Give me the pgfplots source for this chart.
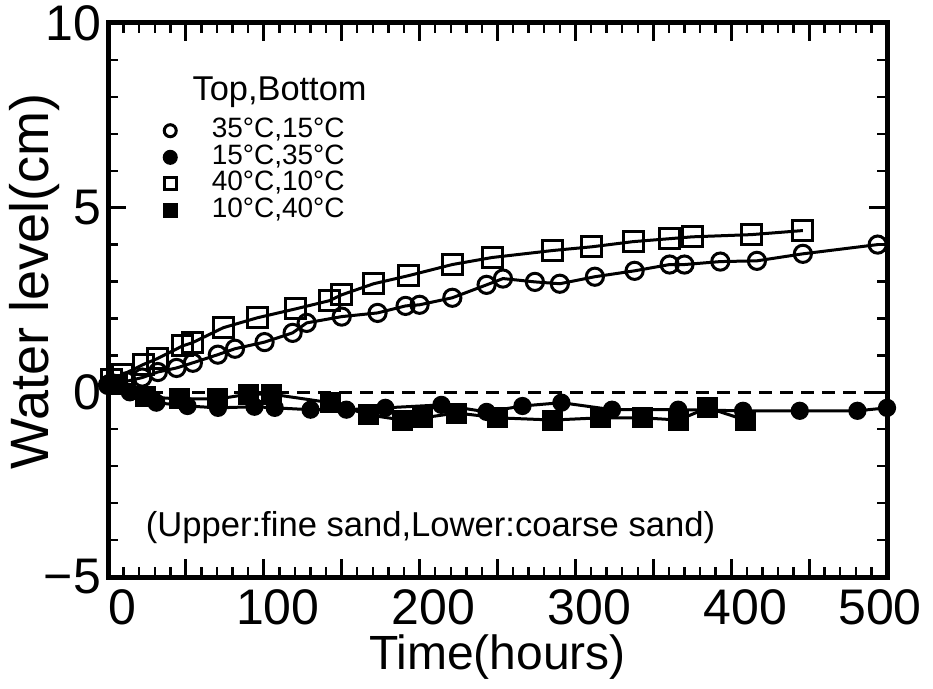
\documentclass[border=0pt]{standalone}
\usepackage{pgfplots}
\pgfplotsset{compat=1.18}
\usepackage{fontspec}
\setmainfont{Liberation Sans}

% Water level against time, fine sand over coarse sand
\pgfplotstableread{
t v
0 0.20
2 0.25
12 0.30
22 0.40
32 0.55
44 0.66
54.5 0.80
70.5 1.02
81.5 1.18
100.5 1.36
118.5 1.61
127.5 1.88
150 2.05
173 2.15
191 2.34
200 2.37
221 2.56
243 2.91
253.5 3.08
274 2.99
290 2.94
312.5 3.13
338 3.29
360.5 3.46
370 3.46
393 3.54
416.5 3.56
446 3.75
494 4.00
}\opencircle

\pgfplotstableread{
t v
1 0.20
14 0.00
31 -0.28
51 -0.37
70.6 -0.42
94 -0.39
107 -0.42
130 -0.47
153 -0.47
178 -0.42
214 -0.34
243 -0.53
266 -0.37
291 -0.28
323.5 -0.47
366 -0.47
407.6 -0.50
444 -0.50
481 -0.50
500 -0.42
}\fillcircle

\pgfplotstableread{
t v
2 0.35
9 0.47
22.5 0.75
31.5 0.91
48 1.26
54 1.34
74 1.75
96 2.02
120.5 2.26
142 2.48
150 2.64
170.5 2.94
193 3.16
221 3.46
246.5 3.65
285.5 3.84
310.5 3.94
337 4.08
360.5 4.16
375 4.21
413 4.27
446 4.38
}\opensquare

\pgfplotstableread{
t v
6 0.20
24 -0.12
46 -0.18
70.6 -0.18
90 -0.05
105 -0.05
142.5 -0.28
167 -0.61
189 -0.75
202 -0.69
224 -0.56
250 -0.69
285.6 -0.75
316 -0.69
343 -0.69
366 -0.75
385 -0.42
409 -0.75
}\fillsquare

\begin{document}
\begin{tikzpicture}
\begin{axis}[
  scale only axis, width=389.5pt, height=277pt,
  xmin=0, xmax=500, ymin=-5, ymax=10,
  clip=false,
  xtick={0,100,...,500},
  xticklabels={0,100,200,300,400,\hspace*{-21pt}500},
  xticklabel style={xshift=7pt, yshift=-3pt},
  extra x ticks={50,150,...,450}, extra x tick labels={},
  extra x tick style={grid=none},
  minor xtick={0,10,...,500},
  ytick={-5,0,5,10}, yticklabels={−5,0,5,10},
  minor ytick={-5,-4,...,10},
  axis line style={line width=2.5pt},
  major tick style={line width=1.5pt, black},
  minor tick style={line width=1.2pt, black},
  major tick length=9pt, minor tick length=5pt,
  tick label style={font=\fontsize{25}{25}\selectfont},
  xlabel={Time(hours)}, ylabel={Water level(cm)},
  xlabel style={font=\fontsize{24}{24}\selectfont, yshift=2pt},
  ylabel style={font=\fontsize{27}{27}\selectfont,
    at={(axis description cs:0,0.533)}, anchor=center, yshift=36.5pt},
  legend style={at={(axis cs:32,7.5)}, anchor=north west, draw=none, fill=none,
    font=\fontsize{14}{14}\selectfont, row sep=2.3pt,
    nodes={inner sep=0pt, text height=9pt, text depth=2pt}},
  legend cell align=left,
  legend image code/.code={%
    \path (0pt,0pt) (20pt,0pt);
    \draw[#1, mark size=3pt] plot coordinates {(0pt,0pt)};},
]
\addplot[forget plot, black, line width=1.5pt, dash pattern=on 6.5pt off 4pt]
  coordinates {(0,0) (500,0)};
\addplot[black, line width=1.5pt, mark=o, mark size=4.3pt,
  mark options={line width=1.5pt, fill=white}] table {\opencircle};
\addlegendentry{35°C,15°C}
\addplot[black, line width=1.5pt, mark=*, mark size=3.8pt] table {\fillcircle};
\addlegendentry{15°C,35°C}
\addplot[black, line width=1.5pt, mark=square, mark size=5pt,
  mark options={line width=1.5pt}] table {\opensquare};
\addlegendentry{40°C,10°C}
\addplot[black, line width=1.5pt, mark=square*, mark size=4.5pt] table {\fillsquare};
\addlegendentry{10°C,40°C}
\node[anchor=west, inner sep=0pt, font=\fontsize{17.2}{17.2}\selectfont]
  at (axis cs:54,8.12) {Top,Bottom};
\node[font=\fontsize{17.3}{17.3}\selectfont] at (axis cs:207,-3.65)
  {(Upper:fine sand,Lower:coarse sand)};
\coordinate (sw) at (rel axis cs:0,0);
\coordinate (ne) at (rel axis cs:1,1);
\end{axis}
\pgfresetboundingbox
\useasboundingbox ([shift={(-54pt,-55.5pt)}]sw) rectangle ([shift={(23pt,11.5pt)}]ne);
\end{tikzpicture}
\end{document}
